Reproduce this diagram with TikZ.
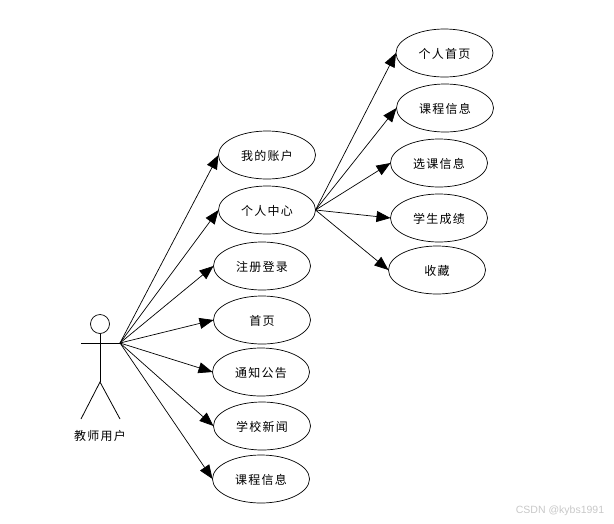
\documentclass[tikz,border=0pt]{standalone}
\usepackage{fontspec}
\setmainfont{Noto Sans CJK SC}[LetterSpace=11]
\newfontfamily\markfont{Liberation Sans}
\usepackage{tikz}
\usetikzlibrary{arrows.meta,positioning,shapes.geometric}
\usepackage{xcolor}
\definecolor{markgray}{RGB}{200,200,200}

\begin{document}
\begin{tikzpicture}[
  x=1pt, y=-1pt,
  uc/.style={draw, ellipse, minimum width=97pt, minimum height=48pt, inner sep=0pt, outer sep=0pt, line width=0.7pt, text height=12pt, text depth=1pt, font=\fontsize{12}{14}\selectfont},
  a/.style={-{Triangle[length=14pt,width=11pt]}, line width=0.7pt},
  limb/.style={line width=0.8pt}
]
\useasboundingbox (0,0) rectangle (614,523);
% actor
\node[draw, circle, minimum size=19pt, inner sep=0pt, line width=0.7pt] (head) at (100,324) {};
\coordinate (neck) at (100,334);
\coordinate (handl) at (81,343);
\coordinate (handr) at (120,343);
\coordinate (hip) at (100,382);
\coordinate (footl) at (81,419);
\coordinate (footr) at (120,419);
\draw[limb] (head) -- (hip);
\draw[limb] (handl) -- (handr);
\draw[limb] (footl) -- (hip) -- (footr);
\node[font=\fontsize{12}{14}\selectfont, inner sep=0pt] (teacher) at (100,436) {教师用户};
% first column
\node[uc] (acct) at (267,155) {我的账户};
\node[uc, below=7pt of acct] (center) {个人中心};
\node[uc, below=8pt of center, xshift=-5pt] (login) {注册登录};
\node[uc, below=6pt of login] (home) {首页};
\node[uc, below=4pt of home, xshift=-1pt] (notice) {通知公告};
\node[uc, below=6pt of notice, xshift=1pt] (news) {学校新闻};
\node[uc, below=5pt of news, xshift=-1pt] (course) {课程信息};
% second column
\node[uc] (page) at (444.5,53) {个人首页};
\node[uc, below=7pt of page, xshift=0.5pt] (info) {课程信息};
\node[uc, below=7pt of info, xshift=-6pt] (pick) {选课信息};
\node[uc, below=7pt of pick] (score) {学生成绩};
\node[uc, below=4pt of score, xshift=-2pt] (fav) {收藏};
\draw[a] (handr) -- (acct.west);
\draw[a] (handr) -- (center.west);
\draw[a] (handr) -- (login.west);
\draw[a] (handr) -- (home.west);
\draw[a] (handr) -- (notice.west);
\draw[a] (handr) -- (news.west);
\draw[a] (handr) -- (course.west);
\draw[a] (center.east) -- (page.west);
\draw[a] (center.east) -- (info.west);
\draw[a] (center.east) -- (pick.west);
\draw[a] (center.east) -- (score.west);
\draw[a] (center.east) -- (fav.west);
\node[font=\markfont\fontsize{10.5}{12}\selectfont, text=markgray, inner sep=0pt] (mark) at (560,511) {CSDN @kybs1991};
\end{tikzpicture}
\end{document}
